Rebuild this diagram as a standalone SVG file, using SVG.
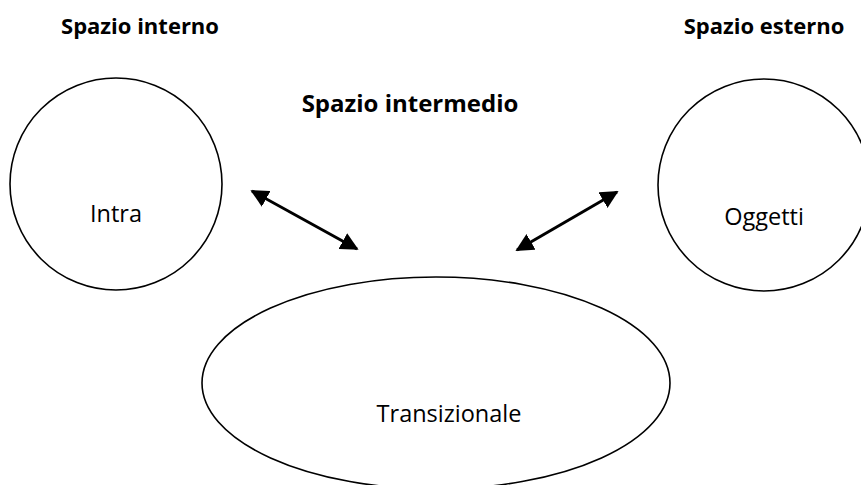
<svg xmlns="http://www.w3.org/2000/svg" width="861" height="485" viewBox="0 0 861 485">
<style>
.shape{fill:#fff;stroke:#000;stroke-width:1.6}
.lbl{font-family:"Open Sans","Liberation Sans",sans-serif;font-size:23.5px;fill:#000;text-anchor:middle}
.ttl{font-family:"Open Sans","Liberation Sans",sans-serif;font-size:22px;font-weight:bold;fill:#000;text-anchor:middle}
.conn{stroke:#000;stroke-width:3;fill:none;marker-start:url(#ah);marker-end:url(#ah)}
</style>
<defs>
<marker id="ah" viewBox="0 0 10 10" refX="9" refY="5" markerWidth="6" markerHeight="6" markerUnits="strokeWidth" orient="auto-start-reverse">
<path d="M0,0 L10,5 L0,10 z" fill="#000"/>
</marker>
</defs>
<rect width="861" height="485" fill="#fff"/>
<text class="ttl" x="140" y="34">Spazio interno</text>
<text class="ttl" x="764" y="34">Spazio esterno</text>
<text class="ttl" x="410" y="112" style="font-size:24px">Spazio intermedio</text>
<g id="intra"><circle class="shape" cx="116" cy="184" r="106"/><text class="lbl" x="116" y="222">Intra</text></g>
<g id="oggetti"><circle class="shape" cx="764" cy="185" r="106"/><text class="lbl" x="764" y="225">Oggetti</text></g>
<g id="transizionale"><ellipse class="shape" cx="436" cy="383" rx="234" ry="106"/><text class="lbl" x="449" y="422">Transizionale</text></g>
<g id="connectors">
<line class="conn" x1="252" y1="191" x2="357" y2="249"/>
<line class="conn" x1="517" y1="250" x2="617" y2="192"/>
</g>
</svg>
